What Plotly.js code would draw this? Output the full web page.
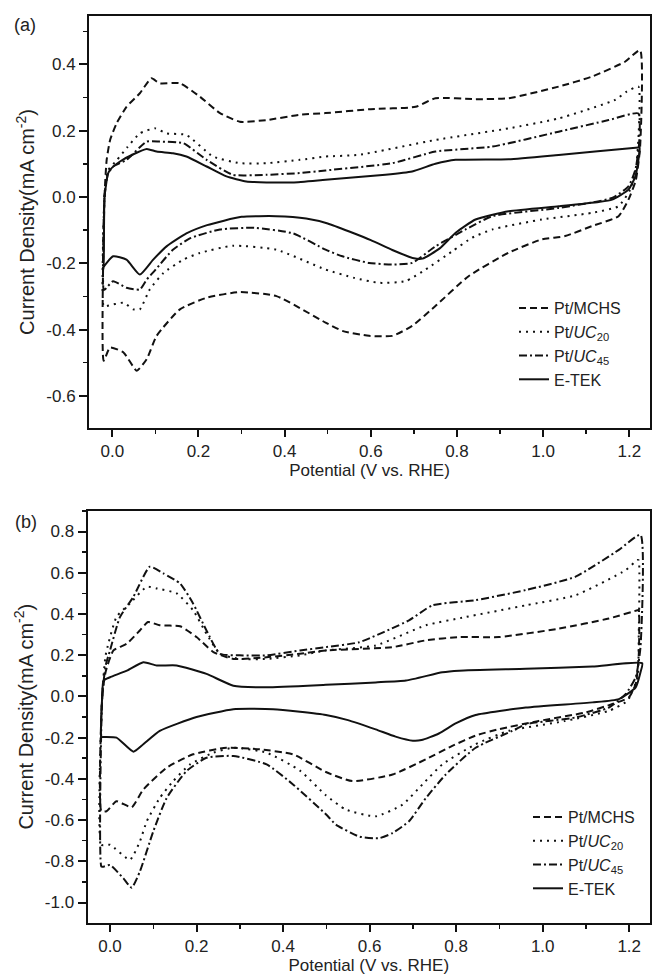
<!DOCTYPE html>
<html>
<head>
<meta charset="utf-8">
<script src="https://cdn.plot.ly/plotly-3.0.1.min.js"></script>
<style>html,body{margin:0;padding:0;background:#fff;}#chart{width:652px;height:975px;}</style>
</head>
<body>
<div id="chart"></div>
<script>
// ---------- Panel (a) data ----------
const mchsA_x = [-0.02,-0.018,-0.013,-0.005,0.01,0.033,0.064,0.091,0.11,0.157,0.203,0.25,0.296,0.358,0.435,0.495,0.6,0.704,0.75,0.843,0.92,1.036,1.113,1.19,1.225,1.225,1.215,1.198,1.175,1.113,1.051,0.997,0.92,0.827,0.75,0.696,0.65,0.596,0.534,0.495,0.381,0.296,0.219,0.157,0.103,0.08,0.057,0.026,-0.005,-0.02];
const mchsA_y = [-0.494,0.0,0.112,0.172,0.222,0.272,0.313,0.358,0.343,0.343,0.303,0.253,0.227,0.232,0.248,0.253,0.265,0.272,0.298,0.295,0.298,0.333,0.363,0.408,0.443,0.15,0.05,-0.008,-0.058,-0.088,-0.118,-0.128,-0.168,-0.239,-0.329,-0.389,-0.419,-0.419,-0.404,-0.379,-0.299,-0.287,-0.304,-0.339,-0.419,-0.489,-0.524,-0.469,-0.454,-0.494];

const uc20A_x = [-0.02,-0.018,-0.01,0.01,0.035,0.064,0.099,0.126,0.172,0.234,0.296,0.358,0.435,0.495,0.572,0.75,0.92,1.036,1.167,1.194,1.221,1.222,1.215,1.202,1.175,1.113,0.997,0.882,0.835,0.789,0.727,0.681,0.619,0.561,0.495,0.381,0.28,0.203,0.165,0.119,0.087,0.064,0.049,0.026,-0.013,-0.02];
const uc20A_y = [-0.33,0.0,0.08,0.11,0.15,0.192,0.207,0.192,0.187,0.122,0.102,0.102,0.112,0.122,0.127,0.172,0.207,0.237,0.293,0.318,0.333,0.2,0.08,0.022,-0.028,-0.048,-0.068,-0.098,-0.123,-0.164,-0.219,-0.254,-0.259,-0.244,-0.219,-0.159,-0.147,-0.169,-0.189,-0.229,-0.279,-0.339,-0.339,-0.319,-0.329,-0.33];

const uc45A_x = [-0.02,-0.018,-0.01,0.002,0.033,0.08,0.11,0.165,0.219,0.28,0.358,0.435,0.495,0.65,0.75,0.882,1.036,1.152,1.221,1.222,1.214,1.198,1.16,1.036,0.882,0.82,0.75,0.696,0.65,0.596,0.534,0.495,0.42,0.33,0.25,0.18,0.14,0.1,0.08,0.064,0.033,0.002,-0.017,-0.02];
const uc45A_y = [-0.28,0.0,0.07,0.092,0.112,0.167,0.167,0.162,0.112,0.067,0.067,0.072,0.08,0.102,0.137,0.152,0.197,0.232,0.252,0.15,0.082,0.032,-0.003,-0.033,-0.058,-0.098,-0.149,-0.199,-0.204,-0.199,-0.179,-0.159,-0.11,-0.093,-0.098,-0.125,-0.16,-0.22,-0.249,-0.279,-0.274,-0.254,-0.279,-0.28];

const etekA_x = [-0.02,-0.018,-0.01,-0.005,0.018,0.049,0.08,0.103,0.141,0.172,0.219,0.265,0.311,0.358,0.419,0.495,0.634,0.696,0.75,0.797,0.92,1.036,1.221,1.224,1.222,1.214,1.198,1.16,1.129,1.036,0.92,0.843,0.797,0.76,0.72,0.7,0.65,0.6,0.5,0.45,0.38,0.3,0.22,0.172,0.126,0.095,0.064,0.033,0.002,-0.021,-0.02];
const etekA_y = [-0.219,0.0,0.07,0.082,0.107,0.129,0.145,0.137,0.132,0.122,0.092,0.062,0.047,0.044,0.044,0.052,0.067,0.077,0.1,0.112,0.114,0.127,0.149,0.149,0.12,0.062,0.022,-0.008,-0.015,-0.028,-0.043,-0.068,-0.108,-0.155,-0.186,-0.185,-0.16,-0.13,-0.08,-0.065,-0.058,-0.06,-0.085,-0.11,-0.149,-0.189,-0.234,-0.189,-0.179,-0.214,-0.219];

// ---------- Panel (b) data ----------
const mchsB_x = [-0.02,-0.018,-0.01,0.008,0.039,0.069,0.088,0.115,0.162,0.2,0.239,0.285,0.362,0.439,0.499,0.653,0.73,0.807,0.899,1.038,1.153,1.219,1.222,1.222,1.215,1.199,1.161,1.099,0.991,0.899,0.845,0.791,0.73,0.653,0.56,0.499,0.423,0.346,0.269,0.192,0.131,0.077,0.05,0.015,-0.008,-0.02];
const mchsB_y = [-0.557,0.0,0.12,0.223,0.256,0.32,0.361,0.345,0.34,0.288,0.215,0.182,0.19,0.207,0.223,0.239,0.272,0.288,0.288,0.329,0.378,0.418,0.42,0.2,0.06,-0.005,-0.037,-0.078,-0.119,-0.159,-0.19,-0.24,-0.305,-0.379,-0.411,-0.367,-0.281,-0.257,-0.249,-0.281,-0.346,-0.452,-0.538,-0.509,-0.557,-0.557];

const uc20B_x = [-0.02,-0.018,-0.01,0.015,0.046,0.085,0.108,0.154,0.192,0.223,0.254,0.3,0.362,0.439,0.499,0.614,0.73,0.822,0.961,1.076,1.192,1.219,1.222,1.222,1.219,1.196,1.153,1.05,0.922,0.845,0.768,0.722,0.676,0.614,0.545,0.499,0.439,0.362,0.285,0.239,0.185,0.146,0.115,0.085,0.069,0.046,0.0,-0.02];
const uc20B_y = [-0.72,0.0,0.2,0.385,0.451,0.532,0.524,0.5,0.418,0.304,0.207,0.182,0.182,0.199,0.223,0.247,0.345,0.385,0.442,0.491,0.613,0.662,0.66,0.3,0.093,-0.021,-0.07,-0.12,-0.167,-0.232,-0.33,-0.427,-0.525,-0.582,-0.549,-0.48,-0.36,-0.273,-0.249,-0.273,-0.33,-0.411,-0.493,-0.606,-0.704,-0.793,-0.72,-0.72];

const uc45B_x = [-0.02,-0.018,-0.01,0.0,0.023,0.054,0.092,0.123,0.162,0.192,0.223,0.254,0.308,0.362,0.439,0.499,0.576,0.691,0.745,0.845,0.961,1.076,1.176,1.226,1.226,1.215,1.192,1.153,1.076,0.961,0.93,0.845,0.776,0.73,0.691,0.653,0.622,0.576,0.522,0.499,0.423,0.362,0.285,0.223,0.177,0.131,0.1,0.069,0.05,0.031,0.0,-0.015,-0.02];
const uc45B_y = [-0.826,0.0,0.15,0.223,0.385,0.483,0.629,0.597,0.548,0.451,0.32,0.207,0.199,0.199,0.223,0.239,0.263,0.369,0.442,0.467,0.516,0.581,0.711,0.784,0.239,0.093,0.012,-0.054,-0.102,-0.135,-0.167,-0.249,-0.379,-0.493,-0.606,-0.663,-0.688,-0.68,-0.622,-0.572,-0.427,-0.33,-0.289,-0.298,-0.362,-0.493,-0.655,-0.85,-0.928,-0.883,-0.818,-0.826,-0.826];

const etekB_x = [-0.02,-0.018,-0.015,0.0,0.039,0.077,0.108,0.154,0.223,0.285,0.362,0.499,0.614,0.684,0.768,0.807,0.961,1.115,1.23,1.226,1.215,1.176,1.115,0.961,0.845,0.8,0.76,0.72,0.7,0.66,0.614,0.55,0.499,0.377,0.285,0.2,0.115,0.077,0.054,0.015,-0.015,-0.02];
const etekB_y = [-0.197,0.0,0.077,0.093,0.125,0.166,0.15,0.15,0.109,0.052,0.044,0.056,0.068,0.077,0.117,0.125,0.134,0.145,0.161,0.117,0.044,-0.013,-0.029,-0.054,-0.09,-0.13,-0.18,-0.212,-0.215,-0.195,-0.16,-0.115,-0.09,-0.062,-0.062,-0.1,-0.167,-0.232,-0.268,-0.2,-0.197,-0.197];

// ---------- labels / ticks ----------
const seriesNames = ['Pt/MCHS', 'Pt/<i>UC</i><sub>20</sub>', 'Pt/<i>UC</i><sub>45</sub>', 'E-TEK'];
const xTickVals = [0, 0.2, 0.4, 0.6, 0.8, 1.0, 1.2];
const xTickText = ['0.0', '0.2', '0.4', '0.6', '0.8', '1.0', '1.2'];
const yTickValsA = [-0.6, -0.4, -0.2, 0, 0.2, 0.4];
const yTickTextA = ['-0.6', '-0.4', '-0.2', '0.0', '0.2', '0.4'];
const yTickValsB = [-1.0, -0.8, -0.6, -0.4, -0.2, 0, 0.2, 0.4, 0.6, 0.8];
const yTickTextB = ['-1.0', '-0.8', '-0.6', '-0.4', '-0.2', '0.0', '0.2', '0.4', '0.6', '0.8'];
const xTitle = 'Potential (V vs. RHE)';
const yTitle = 'Current Density(mA cm<sup>-2</sup>)';

// ---------- styles ----------
const FONT = 'Liberation Sans, Arial, sans-serif';
const dashes = ['7px,4px', '2px,5px', '8px,3px,2px,3px', 'solid'];
const W = 652, H = 975;

const dataA = [[mchsA_x, mchsA_y], [uc20A_x, uc20A_y], [uc45A_x, uc45A_y], [etekA_x, etekA_y]];
const dataB = [[mchsB_x, mchsB_y], [uc20B_x, uc20B_y], [uc45B_x, uc45B_y], [etekB_x, etekB_y]];

const traces = [];
dataA.forEach((d, i) => traces.push({
  x: d[0], y: d[1], xaxis: 'x', yaxis: 'y', type: 'scatter', mode: 'lines',
  name: seriesNames[i], legend: 'legend',
  line: {color: '#111', width: 2, dash: dashes[i], shape: 'spline', smoothing: 0.5}
}));
dataB.forEach((d, i) => traces.push({
  x: d[0], y: d[1], xaxis: 'x2', yaxis: 'y2', type: 'scatter', mode: 'lines',
  name: seriesNames[i], legend: 'legend2',
  line: {color: '#111', width: 2, dash: dashes[i], shape: 'spline', smoothing: 0.5}
}));

function xAxis(domLeft, range, anchor) {
  return {
    domain: [domLeft / W, 650 / W], range: range, anchor: anchor,
    showline: true, linewidth: 2, linecolor: '#111', mirror: true,
    ticks: 'outside', ticklen: 7, tickwidth: 2, tickcolor: '#111',
    tickmode: 'array', tickvals: xTickVals, ticktext: xTickText,
    minor: {tickmode: 'linear', tick0: 0, dtick: 0.1, ticks: 'outside', ticklen: 4, tickwidth: 1.5, tickcolor: '#111'},
    showgrid: false, zeroline: false, automargin: false,
    tickfont: {family: FONT, size: 17, color: '#222'},
    title: {text: xTitle, font: {family: FONT, size: 17, color: '#222'}, standoff: 2}
  };
}
function yAxis(top, bottom, range, anchor, vals, text) {
  return {
    domain: [1 - bottom / H, 1 - top / H], range: range, anchor: anchor,
    showline: true, linewidth: 2, linecolor: '#111', mirror: true,
    ticks: 'outside', ticklen: 8, tickwidth: 2, tickcolor: '#111',
    tickmode: 'array', tickvals: vals, ticktext: text,
    minor: {tickmode: 'linear', tick0: 0, dtick: 0.1, ticks: 'outside', ticklen: 4, tickwidth: 1.5, tickcolor: '#111'},
    showgrid: false, zeroline: false, automargin: false,
    tickfont: {family: FONT, size: 17, color: '#222'},
    title: {text: yTitle, font: {family: FONT, size: 20, color: '#222'}, standoff: 6}
  };
}

const legendBase = {
  xanchor: 'left', yanchor: 'top', bgcolor: 'rgba(0,0,0,0)', borderwidth: 0,
  font: {family: FONT, size: 16, color: '#222'}, itemwidth: 30, tracegroupgap: 0,
  itemclick: false, itemdoubleclick: false
};

const layout = {
  width: W, height: H,
  margin: {l: 0, r: 0, t: 0, b: 0},
  paper_bgcolor: '#fff', plot_bgcolor: '#fff',
  showlegend: true,
  font: {family: FONT, color: '#222'},
  xaxis: xAxis(89, [-0.054, 1.248], 'y'),
  yaxis: yAxis(16, 428, [-0.697, 0.546], 'x', yTickValsA, yTickTextA),
  xaxis2: xAxis(87.5, [-0.052, 1.248], 'y2'),
  yaxis2: yAxis(510.7, 922.7, [-1.098, 0.901], 'x2', yTickValsB, yTickTextB),
  legend: Object.assign({}, legendBase, {x: 514 / W, y: 1 - 291 / H}),
  legend2: Object.assign({}, legendBase, {x: 528 / W, y: 1 - 800 / H}),
  annotations: [
    {text: '(a)', xref: 'paper', yref: 'paper', x: 12 / W, y: 1 - 25 / H, xanchor: 'left', yanchor: 'middle', showarrow: false, font: {family: FONT, size: 18, color: '#222'}},
    {text: '(b)', xref: 'paper', yref: 'paper', x: 13 / W, y: 1 - 522 / H, xanchor: 'left', yanchor: 'middle', showarrow: false, font: {family: FONT, size: 18, color: '#222'}}
  ]
};

Plotly.newPlot('chart', traces, layout, {staticPlot: true, displayModeBar: false});
</script>
</body>
</html>
